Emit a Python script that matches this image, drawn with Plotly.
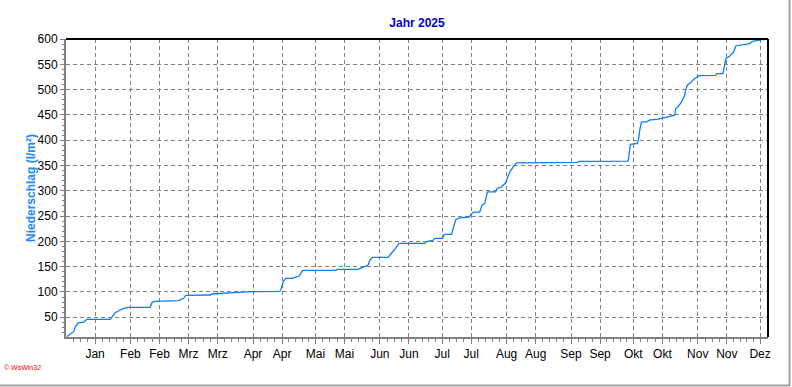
import plotly.graph_objects as go
import pandas as pd

# cumulative precipitation 2025 (l/m²)
dates = [
    "2025-01-01 12:00", "2025-01-04 17:00", "2025-01-05 12:00", "2025-01-06 19:00", "2025-01-09 12:00",
    "2025-01-11 02:00", "2025-01-22 07:00", "2025-01-23 02:00", "2025-01-24 17:00", "2025-01-27 02:00",
    "2025-01-28 19:00", "2025-01-31 05:00", "2025-02-10 12:00", "2025-02-11 10:00", "2025-02-13 00:00",
    "2025-02-24 05:00", "2025-02-26 14:00", "2025-02-27 17:00", "2025-03-11 10:00", "2025-03-12 05:00",
    "2025-03-16 05:00", "2025-03-24 07:00", "2025-03-24 17:00", "2025-03-31 02:00", "2025-04-05 07:00",
    "2025-04-13 22:00", "2025-04-14 10:00", "2025-04-15 12:00", "2025-04-16 17:00", "2025-04-20 07:00",
    "2025-04-21 02:00", "2025-04-23 05:00", "2025-04-24 10:00", "2025-04-25 02:00", "2025-05-10 22:00",
    "2025-05-11 12:00", "2025-05-21 14:00", "2025-05-23 05:00", "2025-05-24 19:00", "2025-05-26 10:00",
    "2025-05-27 05:00", "2025-05-28 12:00", "2025-06-05 00:00", "2025-06-05 19:00", "2025-06-07 02:00",
    "2025-06-08 14:00", "2025-06-10 05:00", "2025-06-22 17:00", "2025-06-23 12:00", "2025-06-26 10:00",
    "2025-06-27 12:00", "2025-07-01 05:00", "2025-07-02 00:00", "2025-07-05 12:00", "2025-07-06 07:00",
    "2025-07-07 14:00", "2025-07-09 12:00", "2025-07-14 00:00", "2025-07-15 02:00", "2025-07-16 05:00",
    "2025-07-19 02:00", "2025-07-20 05:00", "2025-07-21 12:00", "2025-07-22 07:00", "2025-07-22 19:00",
    "2025-07-26 19:00", "2025-07-27 10:00", "2025-07-29 14:00", "2025-07-31 14:00", "2025-08-01 07:00",
    "2025-08-02 14:00", "2025-08-04 05:00", "2025-08-05 19:00", "2025-09-04 02:00", "2025-09-05 05:00",
    "2025-09-28 12:00", "2025-09-28 19:00", "2025-09-29 14:00", "2025-10-03 00:00", "2025-10-03 12:00",
    "2025-10-04 02:00", "2025-10-04 22:00", "2025-10-07 14:00", "2025-10-08 14:00", "2025-10-12 22:00",
    "2025-10-14 12:00", "2025-10-16 14:00", "2025-10-20 22:00", "2025-10-21 10:00", "2025-10-22 12:00",
    "2025-10-24 05:00", "2025-10-24 22:00", "2025-10-25 17:00", "2025-10-26 05:00", "2025-10-27 00:00",
    "2025-10-28 14:00", "2025-10-30 02:00", "2025-10-31 10:00", "2025-11-01 14:00", "2025-11-09 14:00",
    "2025-11-10 05:00", "2025-11-13 02:00", "2025-11-14 00:00", "2025-11-14 12:00", "2025-11-16 10:00",
    "2025-11-18 07:00", "2025-11-19 07:00", "2025-11-22 00:00", "2025-11-26 00:00", "2025-11-27 07:00",
    "2025-11-30 19:00", "2025-12-03 05:00", "2025-12-04 07:00",
]
rain = [
    12, 21.5, 31, 39, 40.6,
    46, 46, 51, 59, 64.3,
    67.7, 69.7, 69.7, 79.6, 81.5,
    82.8, 87.5, 93.4, 94, 96,
    97.3, 98.5, 99.3, 100.5, 101,
    101, 104.8, 120.3, 127, 127,
    129, 131.5, 140, 142.8, 142.8,
    144.7, 144.7, 147.3, 151.3, 153.3,
    163, 168.4, 168.4, 173, 179,
    186, 196, 196, 199.5, 202,
    206, 206, 213.8, 213.8, 225.7,
    243.4, 246.6, 248, 254, 258,
    258, 271.7, 275, 288, 298,
    298, 304.6, 307.8, 315.7, 324.4,
    337.4, 347.3, 355.2, 356, 358,
    358.5, 367, 391.6, 393.5, 401.4,
    419.8, 436, 436, 439.5, 441.5,
    442.8, 446, 449.4, 462.6, 465.8,
    475.6, 482.3, 488.8, 500, 508.6,
    513.8, 520.4, 523.7, 527.7, 528.3,
    531.7, 531.7, 551.4, 561.3, 566.4,
    574.3, 586.2, 587.6, 590.9, 595.5,
    597.4, 598.8, 600,
]

tick_dates = [
    "2025-01-15", "2025-02-01", "2025-02-15", "2025-03-01", "2025-03-15", "2025-04-01",
    "2025-04-15", "2025-05-01", "2025-05-15", "2025-06-01", "2025-06-15", "2025-07-01",
    "2025-07-15", "2025-08-01", "2025-08-15", "2025-09-01", "2025-09-15", "2025-10-01",
    "2025-10-15", "2025-11-01", "2025-11-15", "2025-12-01",
]
tick_labels = [
    "Jan", "Feb", "Feb", "Mrz", "Mrz", "Apr", "Apr", "Mai", "Mai", "Jun", "Jun", "Jul",
    "Jul", "Aug", "Aug", "Sep", "Sep", "Okt", "Okt", "Nov", "Nov", "Dez",
]
x_start = "2025-01-01 00:00"
x_end = "2025-12-04 19:00"

# minor ticks: subdivide each major interval
bounds = [pd.Timestamp(x_start)] + [pd.Timestamp(d) for d in tick_dates] + [pd.Timestamp(x_end)]
minor_vals = []
for a, b in zip(bounds[:-1], bounds[1:]):
    days = (b - a) / pd.Timedelta(days=1)
    n = max(1, round(days / 3.3))
    for k in range(1, n):
        minor_vals.append((a + (b - a) * k / n).strftime("%Y-%m-%d %H:%M"))

W, H = 792, 387
L, R, T, B = 66, 24, 39, 50
pw, ph = W - L - R, H - T - B

def px_x(px):
    return (px - L) / pw

def px_y(py):
    return 1 - (py - T) / ph

fig = go.Figure()
fig.add_trace(go.Scatter(
    x=pd.to_datetime(dates), y=rain, mode="lines",
    line=dict(color="#0A7CFF", width=1.3), showlegend=False,
))

grid = dict(showgrid=True, gridcolor="#808080", griddash="4px,3px", gridwidth=1)
fig.update_layout(
    width=W, height=H,
    margin=dict(l=L, r=R, t=T, b=B, autoexpand=False),
    paper_bgcolor="white", plot_bgcolor="white",
    font=dict(family="Liberation Sans, Arial, sans-serif", size=12, color="black"),
    title=dict(text="<b>Jahr 2025</b>", x=0.5, xref="paper", xanchor="center",
               y=1 - 23 / H, yanchor="middle",
               font=dict(size=12, color="#0000E0", family="Liberation Sans, Arial, sans-serif")),
    xaxis=dict(
        type="date", range=[x_start, x_end], automargin=False,
        tickmode="array", tickvals=tick_dates, ticktext=tick_labels,
        ticks="outside", ticklen=5, tickcolor="#808080", tickwidth=1,
        showline=True, linecolor="#808080", linewidth=2,
        minor=dict(tickmode="array", tickvals=minor_vals, ticks="outside", ticklen=3,
                   tickcolor="#808080", showgrid=False),
        tickfont=dict(size=12), **grid,
        zeroline=False,
    ),
    yaxis=dict(
        range=[11, 600], tick0=0, dtick=50, automargin=False,
        ticks="outside", ticklen=4, tickcolor="#808080", tickwidth=1,
        showline=True, linecolor="#808080", linewidth=2,
        minor=dict(dtick=10, tick0=0, ticks="outside", ticklen=2, tickcolor="#808080", showgrid=False),
        tickfont=dict(size=12), **grid,
        zeroline=False,
    ),
    shapes=[
        dict(type="line", xref="paper", yref="paper", x0=0, x1=1, y0=1, y1=1,
             line=dict(color="black", width=2)),
        dict(type="line", xref="paper", yref="paper", x0=1, x1=1, y0=0, y1=1,
             line=dict(color="black", width=2)),
        dict(type="line", xref="paper", yref="paper", x0=px_x(789.5), x1=px_x(789.5),
             y0=px_y(0), y1=px_y(386), line=dict(color="#A0A0A0", width=2)),
        dict(type="line", xref="paper", yref="paper", x0=px_x(0), x1=px_x(790),
             y0=px_y(385.5), y1=px_y(385.5), line=dict(color="#A0A0A0", width=2)),
    ],
    annotations=[
        dict(text="<b>Niederschlag (l/m²)</b>", xref="paper", yref="paper",
             x=px_x(31), y=0.5, textangle=-90, xanchor="center", yanchor="middle",
             showarrow=False, font=dict(size=12, color="#1E88FF")),
        dict(text="© WsWin32", xref="paper", yref="paper", x=px_x(2), y=px_y(367),
             xanchor="left", yanchor="middle", showarrow=False,
             font=dict(size=7, color="red")),
    ],
)

fig.write_html(
    "out.html",
    config={"displayModeBar": False},
    post_script="document.body.style.margin='0px';document.body.style.overflow='hidden';",
)
